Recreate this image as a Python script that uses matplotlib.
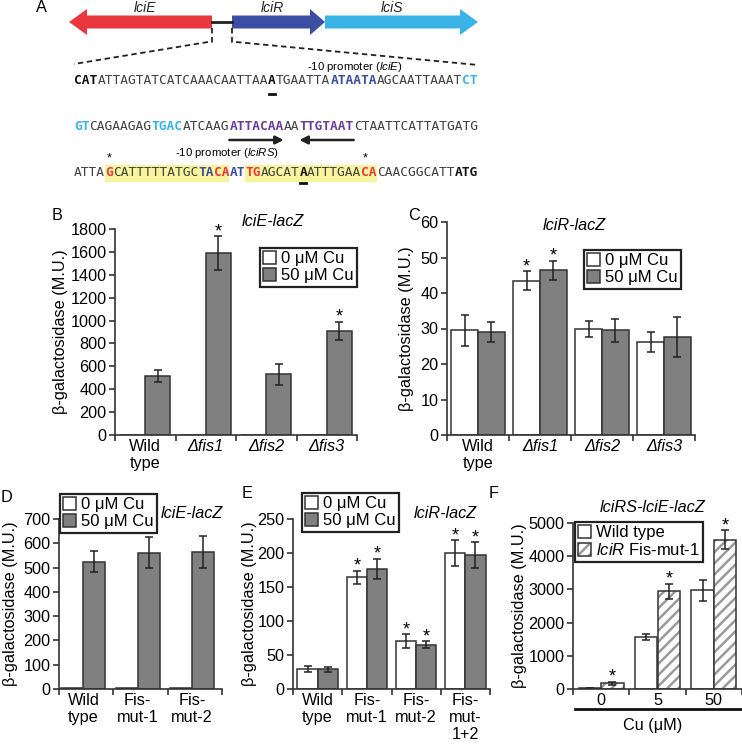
import matplotlib
matplotlib.use('Agg')
import matplotlib.pyplot as plt
from matplotlib.patches import Polygon, Rectangle, Patch
from matplotlib.lines import Line2D
import numpy as np

plt.rcParams['font.family'] = ['Liberation Sans', 'DejaVu Sans']
plt.rcParams['mathtext.fontset'] = 'custom'
plt.rcParams['mathtext.rm'] = 'Liberation Sans'
plt.rcParams['mathtext.it'] = 'Liberation Sans:italic'
plt.rcParams['hatch.linewidth'] = 1.8

# ---------------- data ----------------
genes = ['lciE', 'lciR', 'lciS']

seq_line1 = [('CAT', 'k', True), ('ATTAGTATCATCAAACAATTAA', 'n', False), ('A', 'k', True),
             ('TGAATTA', 'n', False), ('ATAATA', 'b', True), ('AGCAATTAAAT', 'n', False), ('CT', 'c', True)]
seq_line2 = [('GT', 'c', True), ('CAGAAGAG', 'n', False), ('TGAC', 'c', True), ('ATCAAG', 'n', False),
             ('ATTACAA', 'p', True), ('AA', 'n', False), ('TTGTAAT', 'p', True), ('CTAATTCATTATGATG', 'n', False)]
seq_line3 = [('ATTA', 'n', False), ('G', 'r', True), ('CATTTTTATGC', 'n', False), ('TA', 'b', True),
             ('CA', 'r', True), ('AT', 'b', True), ('TG', 'r', True), ('AGCAT', 'n', False), ('A', 'k', True),
             ('ATTTGAA', 'n', False), ('CA', 'r', True), ('CAACGGCATT', 'n', False), ('ATG', 'k', True)]

B_cats = ['Wild\ntype', 'Δfis1', 'Δfis2', 'Δfis3']
B_cu0 = [2, 2, 2, 2]
B_cu50 = [515, 1590, 530, 910]
B_cu50_err = [50, 150, 90, 80]
B_stars50 = [False, True, False, True]

C_cats = ['Wild\ntype', 'Δfis1', 'Δfis2', 'Δfis3']
C_cu0 = [29.5, 43.5, 29.9, 26.1]
C_cu0_err = [4.3, 2.7, 2.3, 2.8]
C_cu50 = [29.1, 46.4, 29.5, 27.6]
C_cu50_err = [2.8, 2.7, 3.3, 5.6]
C_stars0 = [False, True, False, False]
C_stars50 = [False, True, False, False]

D_cats = ['Wild\ntype', 'Fis-\nmut-1', 'Fis-\nmut-2']
D_cu0 = [3, 3, 4]
D_cu50 = [525, 562, 565]
D_cu50_err = [45, 62, 67]

E_cats = ['Wild\ntype', 'Fis-\nmut-1', 'Fis-\nmut-2', 'Fis-\nmut-\n1+2']
E_cu0 = [29.5, 164, 71, 200]
E_cu0_err = [4.5, 10, 10, 19]
E_cu50 = [29, 176.5, 65, 197]
E_cu50_err = [3.5, 15, 5, 18.5]
E_stars0 = [False, True, True, True]
E_stars50 = [False, True, True, True]

F_cats = ['0', '5', '50']
F_wt = [20, 1570, 2970]
F_wt_err = [0, 80, 320]
F_mut = [170, 2940, 4500]
F_mut_err = [50, 235, 275]
F_stars_mut = [True, True, True]

# ---------------- style ----------------
W, H = 742, 745
GRAY = '#808080'
EDGE = '#333333'
FS = 11.7
seq_colors = {'k': '#111111', 'n': '#404040', 'b': '#3b4ea3', 'c': '#3ab4e6',
              'p': '#6a3d9a', 'r': '#e8383d'}

fig = plt.figure(figsize=(W / 100, H / 100), dpi=100)


def frect(l, t, r, b):
    return [l / W, 1 - b / H, (r - l) / W, (b - t) / H]


base = fig.add_axes([0, 0, 1, 1])
base.set_xlim(0, W)
base.set_ylim(H, 0)
base.axis('off')

# ---------------- panel A ----------------
def gene_arrow(tail, tip, yc, color, head_len, body_h=13, head_h=26):
    s = 1 if tip > tail else -1
    hb = tip - s * head_len
    pts = [(tail, yc - body_h / 2), (hb, yc - body_h / 2), (hb, yc - head_h / 2), (tip, yc),
           (hb, yc + head_h / 2), (hb, yc + body_h / 2), (tail, yc + body_h / 2)]
    base.add_patch(Polygon(pts, closed=True, facecolor=color, edgecolor='none'))

base.plot([212, 232], [22, 22], color='#222222', lw=2)
gene_arrow(212, 69, 22, '#e8383d', 18)
gene_arrow(232, 325, 22, '#3b4ea3', 15)
gene_arrow(325, 478, 22, '#3ab4e6', 18)
for g, xc in zip(genes, [145, 272, 392]):
    base.text(xc, 8, g, fontsize=10, style='italic', ha='center', va='center', color='#222222')
base.text(41, 8, 'A', fontsize=FS, ha='center', va='center')

base.plot([212, 212, 208, 74], [28, 42, 42, 64], ls=(0, (3, 2)), color='#222222', lw=1.3)
base.plot([232, 232, 236, 478], [28, 42, 42, 65], ls=(0, (3, 2)), color='#222222', lw=1.3)

x0, dx = 74, 404 / 52
SEQ_FS = dx / 0.602 / (100 / 72)


def draw_seq(segs, y):
    i = 0
    for s, c, b in segs:
        base.text(x0 + i * dx, y, s, family='DejaVu Sans Mono', fontsize=SEQ_FS,
                  weight='bold' if b else 'normal', color=seq_colors[c], ha='left', va='center')
        i += len(s)

# highlight on line 3
for a, b in [(4, 19), (22, 38)]:
    base.add_patch(Rectangle((x0 + a * dx, 165), (b - a + 1) * dx, 17, facecolor='#f8f49e',
                             edgecolor='none'))
draw_seq(seq_line1, 81)
draw_seq(seq_line2, 127)
draw_seq(seq_line3, 172)
# underlines
base.plot([x0 + 25 * dx + 1, x0 + 26 * dx - 1], [94, 94], color='#111111', lw=2)
base.plot([x0 + 29 * dx + 1, x0 + 30 * dx - 1], [183, 183], color='#111111', lw=2)
# stars
for idx in [4, 37]:
    base.text(x0 + (idx + 0.5) * dx, 164.5, '*', fontsize=9, ha='center', va='bottom')
# inverted repeat arrows
base.annotate('', xy=(x0 + 27 * dx, 140), xytext=(x0 + 20 * dx, 140),
              arrowprops=dict(arrowstyle='-|>', color='#222222', lw=1.8, mutation_scale=12,
                              shrinkA=0, shrinkB=0))
base.annotate('', xy=(x0 + 29 * dx, 140), xytext=(x0 + 36 * dx, 140),
              arrowprops=dict(arrowstyle='-|>', color='#222222', lw=1.8, mutation_scale=12,
                              shrinkA=0, shrinkB=0))
base.text(355, 67, '-10 promoter ($\\mathit{lciE}$)', fontsize=8.2, ha='center', va='center')
base.text(227, 153, '-10 promoter ($\\mathit{lciRS}$)', fontsize=8.2, ha='center', va='center')


# ---------------- bar panels ----------------
def setup(ax, cats, ymax, step, x_lo=-0.5):
    n = len(cats)
    ax.set_xlim(x_lo, x_lo + n)
    ax.set_ylim(0, ymax)
    ax.set_yticks(np.arange(0, ymax + 1, step))
    for s in ['top', 'right']:
        ax.spines[s].set_visible(False)
    for s in ['left', 'bottom']:
        ax.spines[s].set_color(EDGE)
        ax.spines[s].set_linewidth(1.2)
    ax.set_xticks(range(n))
    ax.set_xticklabels(cats, fontsize=FS, linespacing=1.15)
    ax.set_xticks(np.arange(x_lo, x_lo + n + 0.01, 1), minor=True)
    ax.tick_params(axis='x', which='major', length=0, pad=3)
    ax.tick_params(axis='x', which='minor', length=4, width=1.2, color=EDGE)
    ax.tick_params(axis='y', length=4, width=1.2, color=EDGE, labelsize=FS, pad=2)
    for t in ax.get_xticklabels():
        if t.get_text().startswith('Δ'):
            t.set_fontstyle('italic')
    ax.patch.set_alpha(0)


def bars(ax, vals, errs, off, w, color, hatch=None):
    x = np.arange(len(vals)) + off
    ek = dict(ecolor='#222222', elinewidth=1.1, capsize=3, capthick=1.1)
    if hatch:
        ax.bar(x, vals, w, color='white', edgecolor='#9a9a9a', hatch=hatch, linewidth=0)
        ax.bar(x, vals, w, color='none', edgecolor=EDGE, linewidth=1.1,
               yerr=errs, error_kw=ek)
    else:
        ax.bar(x, vals, w, color=color, edgecolor=EDGE, linewidth=1.1,
               yerr=errs, error_kw=ek)
    return x


def stars(ax, x, vals, errs, flags):
    for xi, v, e, f in zip(x, vals, errs, flags):
        if f:
            ax.annotate('*', (xi, v + e), xytext=(0, -3), textcoords='offset points',
                        ha='center', va='bottom', fontsize=13)


def legend(ax, labels, l, t, hatched=False):
    h0 = Patch(facecolor='white', edgecolor=EDGE, linewidth=1.1)
    if hatched:
        h1 = (Patch(facecolor='white', edgecolor='#9a9a9a', hatch='///', linewidth=0),
              Patch(facecolor='none', edgecolor=EDGE, linewidth=1.1))
    else:
        h1 = Patch(facecolor=GRAY, edgecolor=EDGE, linewidth=1.1)
    leg = ax.legend([h0, h1], labels, loc='upper left', bbox_to_anchor=(l / W, 1 - t / H),
                    bbox_transform=fig.transFigure, fontsize=12, frameon=True, fancybox=False,
                    edgecolor='#222222', framealpha=1, handlelength=0.75, handleheight=0.75,
                    handletextpad=0.3, borderpad=0.2, labelspacing=0.12, borderaxespad=0)
    leg.get_frame().set_linewidth(1.6)


def ylabel(ax, xpx):
    ax.set_ylabel('β-galactosidase (M.U.)', fontsize=FS)
    pos = ax.get_position()
    ax.yaxis.set_label_coords(xpx / W, pos.y0 + pos.height / 2, transform=fig.transFigure)


cu_labels = ['0 μM Cu', '50 μM Cu']

# B
axB = fig.add_axes(frect(115, 229, 357, 435))
setup(axB, B_cats, 1800, 200)
w = 0.41
bars(axB, B_cu0, None, -w / 2, w, 'white')
xb = bars(axB, B_cu50, B_cu50_err, w / 2, w, GRAY)
stars(axB, xb, B_cu50, B_cu50_err, B_stars50)
legend(axB, cu_labels, 260, 248)
ylabel(axB, 68)
fig.text(273 / W, 1 - 222 / H, 'lciE-lacZ', style='italic', fontsize=FS, ha='center', va='center')
fig.text(57 / W, 1 - 215 / H, 'B', fontsize=FS, ha='center', va='center')

# C
axC = fig.add_axes(frect(447, 222, 695, 435))
setup(axC, C_cats, 60, 10)
w = 0.43
xc0 = bars(axC, C_cu0, C_cu0_err, -w / 2, w, 'white')
xc1 = bars(axC, C_cu50, C_cu50_err, w / 2, w, GRAY)
stars(axC, xc0, C_cu0, C_cu0_err, C_stars0)
stars(axC, xc1, C_cu50, C_cu50_err, C_stars50)
legend(axC, cu_labels, 584, 250)
ylabel(axC, 414)
fig.text(574 / W, 1 - 225 / H, 'lciR-lacZ', style='italic', fontsize=FS, ha='center', va='center')
fig.text(414 / W, 1 - 215 / H, 'C', fontsize=FS, ha='center', va='center')

# D
axD = fig.add_axes(frect(59, 519, 222, 689))
setup(axD, D_cats, 700, 100, x_lo=-0.45)
w = 0.405
bars(axD, D_cu0, None, -w / 2, w, 'white')
bars(axD, D_cu50, D_cu50_err, w / 2, w, GRAY)
legend(axD, cu_labels, 60, 494)
ylabel(axD, 18)
fig.text(192 / W, 1 - 513 / H, 'lciE-lacZ', style='italic', fontsize=FS, ha='center', va='center')
fig.text(7 / W, 1 - 497 / H, 'D', fontsize=FS, ha='center', va='center')

# E
axE = fig.add_axes(frect(293, 519, 490, 689))
setup(axE, E_cats, 250, 50)
w = 0.41
xe0 = bars(axE, E_cu0, E_cu0_err, -w / 2, w, 'white')
xe1 = bars(axE, E_cu50, E_cu50_err, w / 2, w, GRAY)
stars(axE, xe0, E_cu0, E_cu0_err, E_stars0)
stars(axE, xe1, E_cu50, E_cu50_err, E_stars50)
legend(axE, cu_labels, 302, 493)
ylabel(axE, 257)
fig.text(445 / W, 1 - 513 / H, 'lciR-lacZ', style='italic', fontsize=FS, ha='center', va='center')
fig.text(247 / W, 1 - 494 / H, 'E', fontsize=FS, ha='center', va='center')

# F
axF = fig.add_axes(frect(573, 523, 742, 689))
setup(axF, F_cats, 5000, 1000)
w = 0.40
bars(axF, F_wt, F_wt_err, -w / 2, w, 'white')
xf = bars(axF, F_mut, F_mut_err, w / 2, w, None, hatch='///')
stars(axF, xf, F_mut, F_mut_err, F_stars_mut)
legend(axF, ['Wild type', '$\\mathit{lciR}$ Fis-mut-1'], 575, 522, hatched=True)
ylabel(axF, 527)
axF.set_xlabel('Cu (μM)', fontsize=FS)
axF.xaxis.set_label_coords(653 / W, 1 - 718 / H, transform=fig.transFigure)
fig.add_artist(Line2D([575 / W, 742 / W], [1 - 709 / H, 1 - 709 / H], color='#111111', lw=2))
fig.text(653 / W, 1 - 508 / H, 'lciRS-lciE-lacZ', style='italic', fontsize=FS, ha='center', va='center')
fig.text(494 / W, 1 - 494 / H, 'F', fontsize=FS, ha='center', va='center')

fig.savefig('out.png', dpi=100)
